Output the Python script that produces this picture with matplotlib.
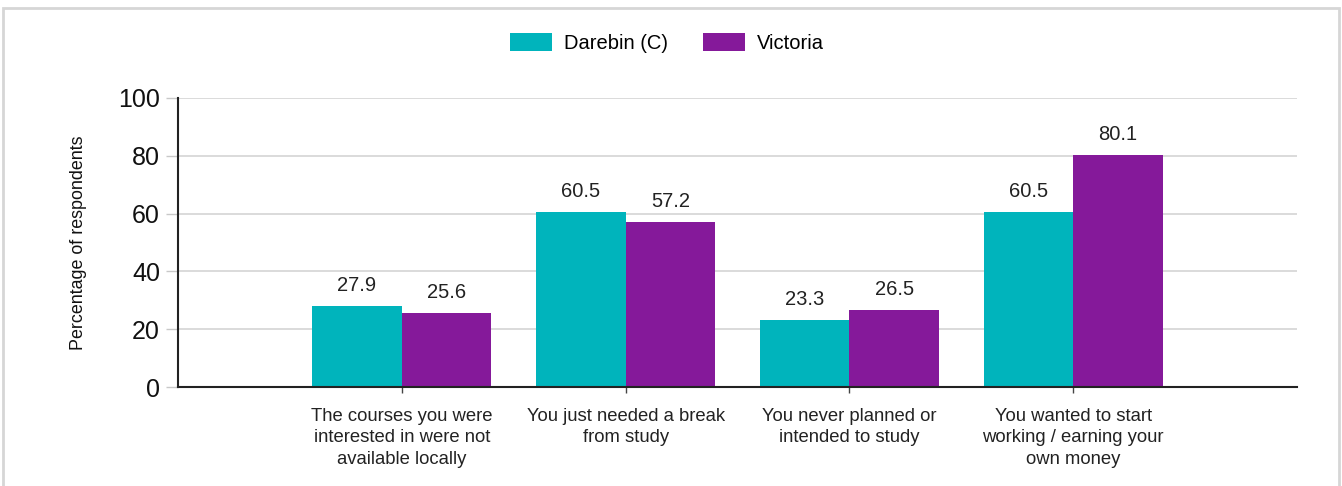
import matplotlib
matplotlib.use("Agg")
import matplotlib.pyplot as plt
from matplotlib.patches import Rectangle
import numpy as np

plt.rcParams['font.family'] = ['Liberation Sans', 'DejaVu Sans']

categories = [
    "The courses you were\ninterested in were not\navailable locally",
    "You just needed a break\nfrom study",
    "You never planned or\nintended to study",
    "You wanted to start\nworking / earning your\nown money",
]
series_names = ["Darebin (C)", "Victoria"]
darebin = [27.9, 60.5, 23.3, 60.5]
victoria = [25.6, 57.2, 26.5, 80.1]
colors = ["#00B4BC", "#85199A"]

fig = plt.figure(figsize=(13.42, 4.86), dpi=100)
ax = fig.add_axes([0.1326, 0.2037, 0.8339, 0.5947])

x = np.arange(len(categories))
w = 0.4
for i, (vals, name, c) in enumerate(zip([darebin, victoria], series_names, colors)):
    bars = ax.bar(x + (i - 0.5) * w, vals, w, color=c, label=name, zorder=2)
    for b, v in zip(bars, vals):
        ax.annotate(f"{v:.1f}", (b.get_x() + b.get_width() / 2, v),
                    xytext=(0, 8), textcoords="offset points",
                    ha="center", va="bottom", fontsize=14.5, color="#222222")

ax.set_xlim(-1, 4)
ax.set_ylim(0, 100)
ax.set_yticks([0, 20, 40, 60, 80, 100])
ax.tick_params(axis="y", labelsize=18, length=9, width=1, color="#c8c8c8",
               pad=4, labelcolor="#111111")
ax.set_xticks(x)
ax.set_xticklabels(categories, fontsize=13.3, color="#222222", linespacing=1.35)
ax.tick_params(axis="x", length=4, width=1, color="#444444", pad=11)
ax.grid(axis="y", color="#d8d8d8", linewidth=1.3, zorder=0)
ax.set_axisbelow(True)
for s in ["top", "right"]:
    ax.spines[s].set_visible(False)
ax.spines["left"].set_color("#222222")
ax.spines["left"].set_linewidth(1.5)
ax.spines["bottom"].set_color("#222222")
ax.spines["bottom"].set_linewidth(1.5)

ax.set_ylabel("Percentage of respondents", fontsize=12.9, color="#111111", labelpad=22)

fig.legend(loc="center", bbox_to_anchor=(0.497, 0.9115), ncol=2, frameon=False,
           fontsize=14.5, handlelength=2.1, handleheight=1.0, columnspacing=1.7,
           handletextpad=0.6)

fig.patches.append(Rectangle((0.002, -0.02), 0.996, 1 - 8 / 486 + 0.02,
                             transform=fig.transFigure, fill=False,
                             edgecolor="#d6d6d6", linewidth=2))

fig.savefig("out.png", dpi=100)
